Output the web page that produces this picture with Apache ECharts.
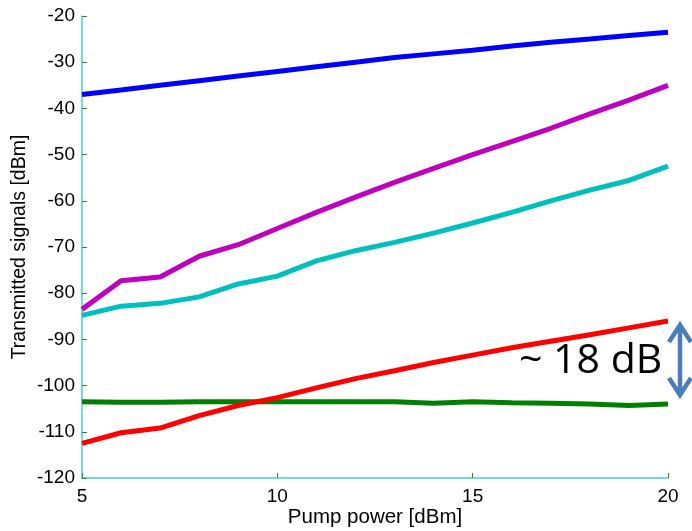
<!DOCTYPE html>
<html><head><meta charset="utf-8">
<script src="https://cdn.jsdelivr.net/npm/echarts@6/dist/echarts.min.js"></script>
<style>html,body{margin:0;padding:0;background:#fff}#c{width:692px;height:531px}</style>
</head><body><div id="c"></div>
<script>
const pumpPower = [5,6,7,8,9,10,11,12,13,14,15,16,17,18,19,20];
const blueSeries = [-37,-36,-35,-34,-33,-32,-31,-30,-29,-28.2,-27.4,-26.5,-25.7,-25,-24.2,-23.5];
const magentaSeries = [-83.5,-77.3,-76.5,-72,-69.5,-66,-62.5,-59.2,-56,-53,-50,-47.2,-44.3,-41.2,-38.2,-35];
const cyanSeries = [-84.8,-82.8,-82.2,-80.8,-78,-76.3,-73,-70.8,-69,-67,-64.8,-62.5,-60,-57.7,-55.6,-52.5];
const redSeries = [-112.5,-110.2,-109.2,-106.5,-104.3,-102.6,-100.5,-98.5,-96.8,-95,-93.4,-91.8,-90.4,-89,-87.5,-86];
const greenSeries = [-103.5,-103.6,-103.6,-103.5,-103.5,-103.5,-103.5,-103.5,-103.5,-103.8,-103.5,-103.7,-103.8,-104,-104.3,-104];
const annotationText = '~ 18 dB';

const chart = echarts.init(document.getElementById('c'));
function mk(name, vals, color){
  return {name, type:'line', data: pumpPower.map((x,i)=>[x, vals[i]]), showSymbol:false, symbol:'none',
    lineStyle:{color, width:5}, itemStyle:{color}, animation:false, z:3};
}
const axisColor = '#48d1cc';
chart.setOption({
  animation:false,
  grid:{left:82, right:24, top:16, bottom:53, containLabel:false, outerBoundsMode:'none'},
  xAxis:{type:'value', min:5, max:20, interval:5,
    name:'Pump power [dBm]', nameLocation:'middle', nameGap:29, nameMoveOverlap:false,
    nameTextStyle:{fontFamily:'Liberation Sans', fontSize:20.5, color:'#000'},
    axisLine:{show:true, lineStyle:{color:axisColor, width:1.5}},
    axisTick:{show:true, inside:true, length:5, lineStyle:{color:'#2a8a2a'}},
    axisLabel:{fontFamily:'Liberation Sans', fontSize:19, color:'#000', margin:9},
    splitLine:{show:false}},
  yAxis:{type:'value', min:-120, max:-20, interval:10,
    name:'Transmitted signals [dBm]', nameLocation:'middle', nameGap:52, nameRotate:90, nameMoveOverlap:false,
    nameTextStyle:{fontFamily:'Liberation Sans', fontSize:19.5, color:'#000'},
    axisLine:{show:true, lineStyle:{color:axisColor, width:1.5}},
    axisTick:{show:true, inside:true, length:5, lineStyle:{color:'#2a8a2a'}},
    axisLabel:{fontFamily:'Liberation Sans', fontSize:19, color:'#000', margin:7},
    splitLine:{show:false}},
  series:[
    mk('blue', blueSeries, '#0000ff'),
    mk('magenta', magentaSeries, '#bf00bf'),
    mk('cyan', cyanSeries, '#00bfbf'),
    mk('green', greenSeries, '#008000'),
    mk('red', redSeries, '#ff0000')
  ],
  graphic:[
    {type:'text', left:519, top:341, z:10,
      style:{text:annotationText, fontFamily:'Open Sans', fontSize:41, fill:'#000'}},
    {type:'group', z:10, children:[
      {type:'line', shape:{x1:680, y1:326, x2:680, y2:394}, style:{stroke:'#4a7ebb', lineWidth:4.5}},
      {type:'polyline', shape:{points:[[669,342],[680,325],[691,342]]}, style:{stroke:'#4a7ebb', lineWidth:4.5, fill:null, lineJoin:'miter'}},
      {type:'polyline', shape:{points:[[669,378],[680,395],[691,378]]}, style:{stroke:'#4a7ebb', lineWidth:4.5, fill:null, lineJoin:'miter'}}
    ]}
  ]
});
</script></body></html>
